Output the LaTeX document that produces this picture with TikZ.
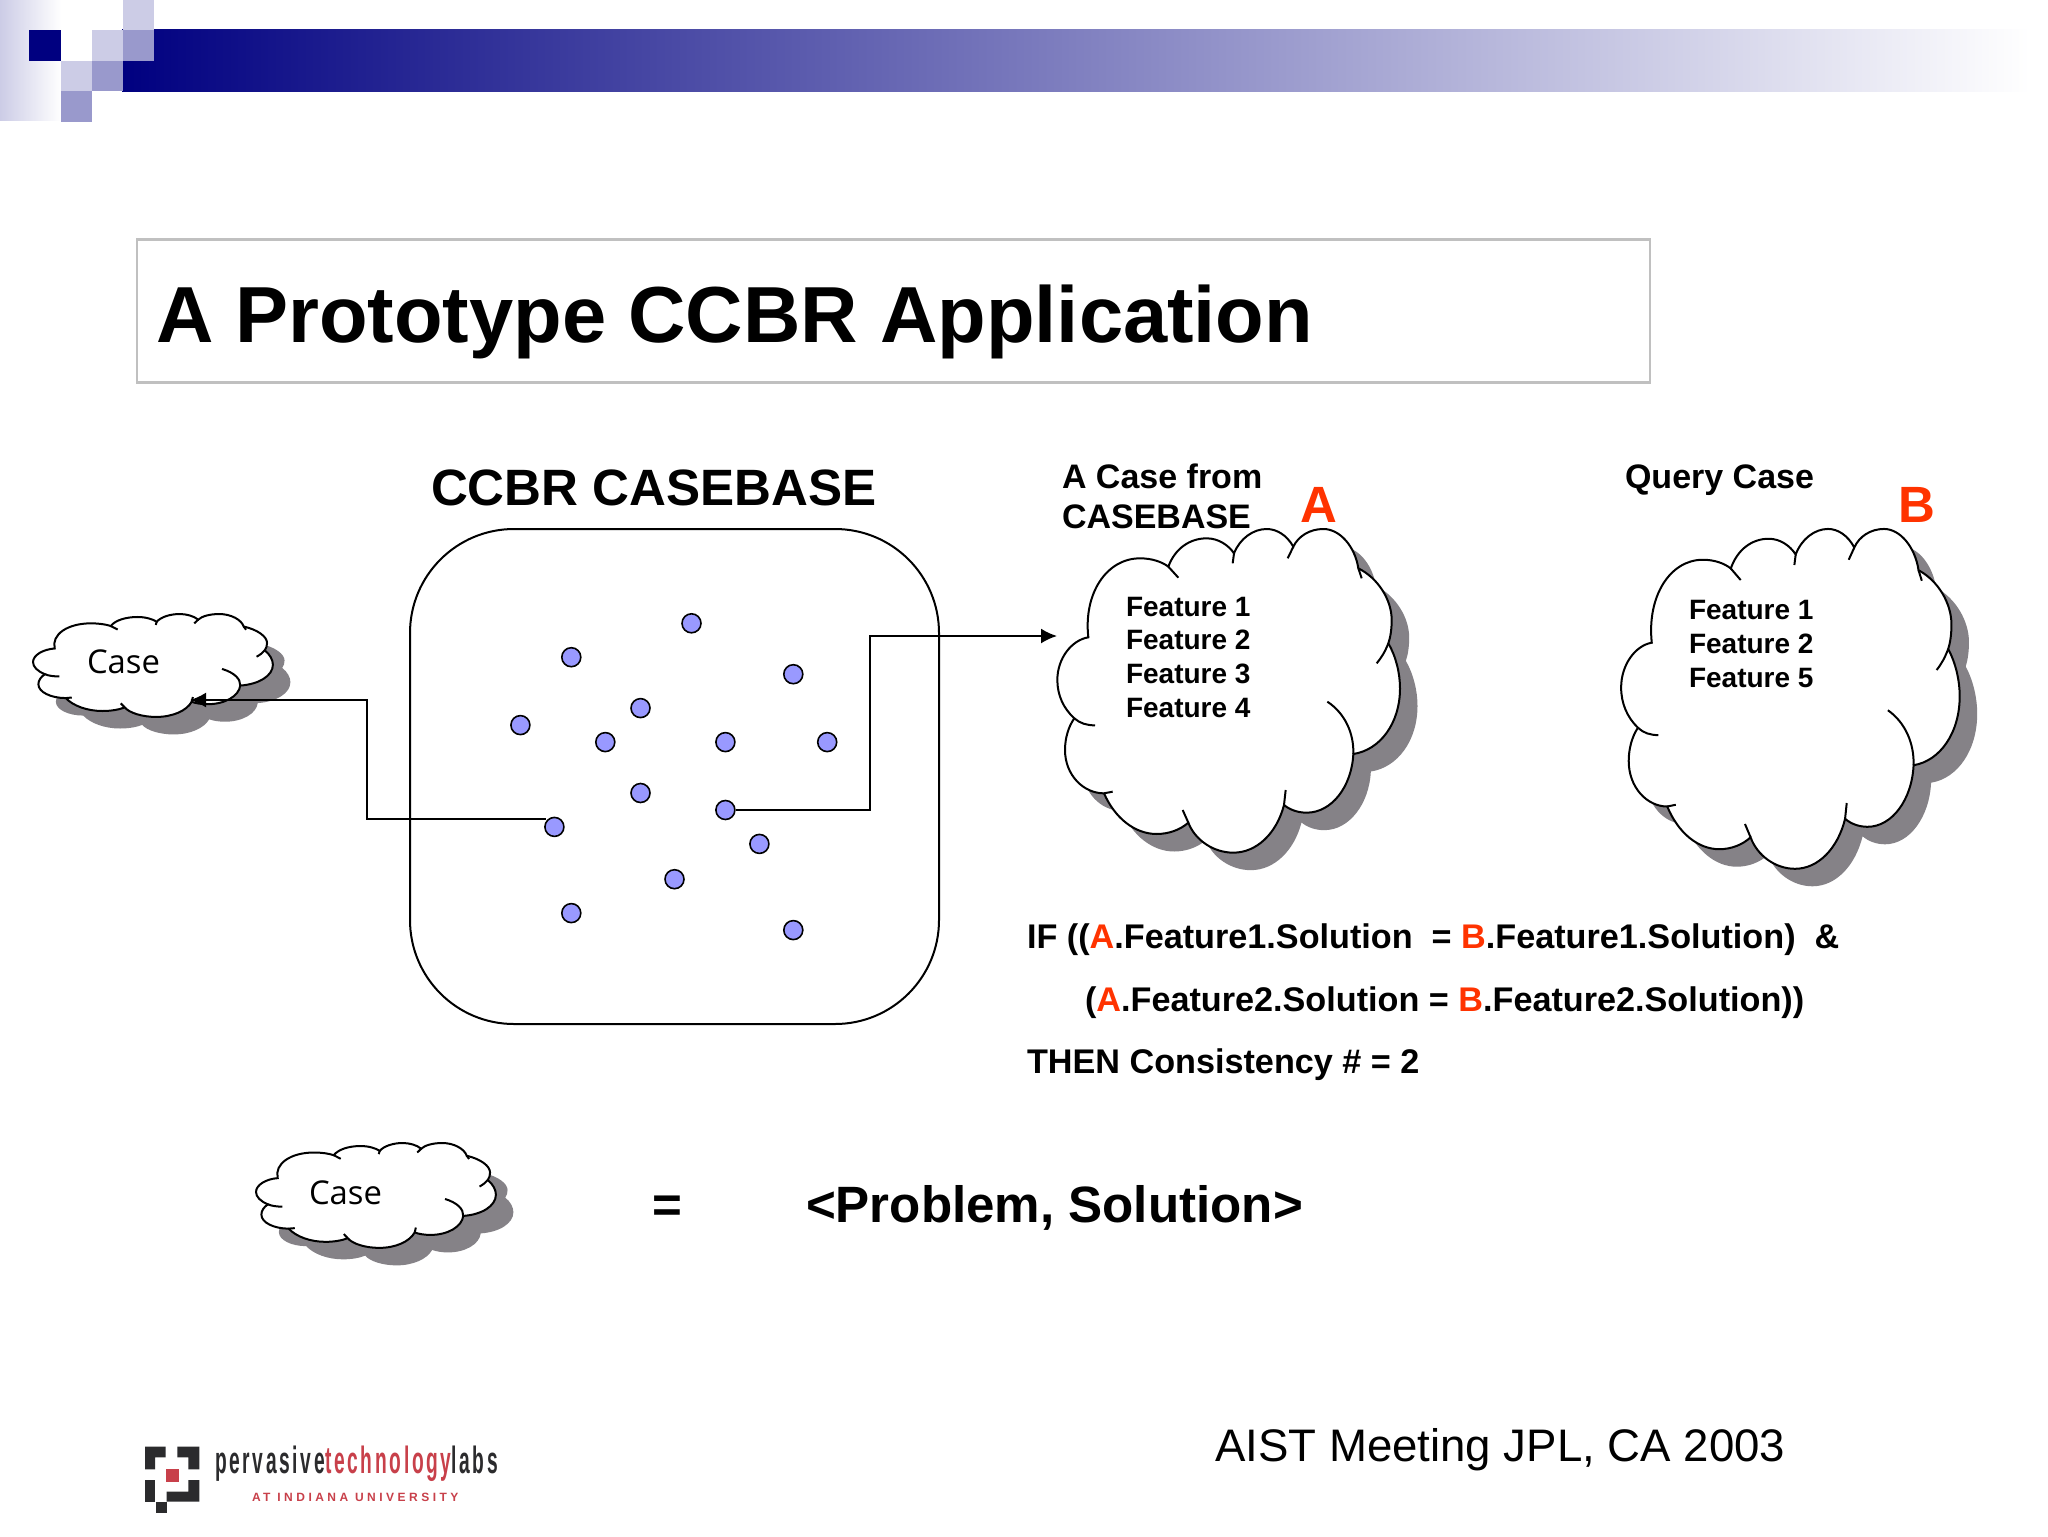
\documentclass[tikz,border=0pt]{standalone}
\usepackage{fontspec}
\setmainfont{Liberation Sans}
\newfontfamily\casefont{Open Sans}
\newfontfamily\spacedfont[LetterSpace=29]{Liberation Sans}
\newfontfamily\logofont[LetterSpace=14]{Liberation Sans}
\definecolor{navybar}{HTML}{000080}
\definecolor{lightsq}{HTML}{CCCCE6}
\definecolor{midsq}{HTML}{9999CC}
\definecolor{shadowgray}{HTML}{858287}
\definecolor{redletter}{HTML}{FF3300}
\definecolor{dotfill}{HTML}{9999FF}
\definecolor{boxgray}{HTML}{C0C0C0}
\definecolor{logored}{HTML}{C8404A}
\definecolor{logodark}{HTML}{2B2B2D}
\newcommand{\RA}{\textcolor{redletter}{A}}
\newcommand{\RB}{\textcolor{redletter}{B}}
\newcommand{\blobpath}{
  (145,562) .. controls (130,430) and (200,325) .. (300,325) .. controls (335,325) and (365,335) .. (385,350)
  .. controls (405,295) and (450,265) .. (500,265) .. controls (535,265) and (565,285) .. (582,310)
  .. controls (600,265) and (640,237) .. (680,237) .. controls (710,237) and (740,255) .. (760,290)
  .. controls (775,258) and (810,237) .. (850,237) .. controls (900,237) and (945,290) .. (955,355)
  .. controls (1015,385) and (1055,450) .. (1055,510) .. controls (1055,535) and (1052,560) .. (1045,580)
  .. controls (1068,620) and (1080,670) .. (1080,715) .. controls (1080,820) and (1020,900) .. (940,912)
  .. controls (935,1010) and (875,1088) .. (800,1088) .. controls (775,1088) and (750,1080) .. (732,1065)
  .. controls (710,1150) and (650,1208) .. (580,1208) .. controls (520,1208) and (465,1170) .. (445,1118)
  .. controls (420,1140) and (385,1152) .. (350,1152) .. controls (285,1152) and (225,1105) .. (192,1030)
  .. controls (130,1030) and (75,975) .. (75,900) .. controls (75,865) and (85,830) .. (103,805)
  .. controls (70,775) and (52,735) .. (52,690) .. controls (52,625) and (95,570) .. (145,562) -- cycle}
% #1 X, #2 Y, #3 x scale, #4 y scale (cloud outline is given in 3x crop units)
\newcommand{\cloudat}[4]{
  \begin{scope}[shift={(#1+17.5,#2+17.5)},xscale=#3/3,yscale=#4/3]
    \fill[shadowgray] \blobpath;
  \end{scope}
  \begin{scope}[shift={(#1,#2)},xscale=#3/3,yscale=#4/3]
    \fill[white] \blobpath;
    \draw[cloudline] \blobpath;
    \draw[cloudline] (385,350) -- (415,383);
    \draw[cloudline] (582,310) -- (578,340);
    \draw[cloudline] (760,290) -- (743,325);
    \draw[cloudline] (955,355) -- (965,385);
    \draw[cloudline] (1045,580) .. controls (1035,605) and (1025,622) .. (1010,640);
    \draw[cloudline] (862,755) .. controls (915,790) and (942,850) .. (940,912);
    \draw[cloudline] (737,1020) -- (732,1065);
    \draw[cloudline] (428,1080) -- (445,1118);
    \draw[cloudline] (192,1030) -- (218,1025);
    \draw[cloudline] (103,805) .. controls (120,820) and (140,826) .. (165,826);
  \end{scope}
}
\tikzset{
  cloudline/.style={black,line width=1pt},
  txt/.style={inner sep=0pt,outer sep=0pt,anchor=base west,text=black},
  dot/.style={circle,draw=black,line width=.8pt,fill=dotfill,minimum size=9.5pt,inner sep=0pt},
  conn/.style={black,line width=1pt},
  tip/.style={-{Latex[length=8pt,width=7.5pt]}},
  titlef/.style={font=\fontsize{39.75}{48}\selectfont\bfseries},
  headf/.style={font=\fontsize{25.55}{30}\selectfont\bfseries},
  capf/.style={font=\fontsize{17}{20}\selectfont\bfseries},
  featf/.style={font=\fontsize{14}{16}\selectfont\bfseries},
  letterf/.style={font=\fontsize{25.5}{30}\selectfont\bfseries,text=redletter},
  rulef/.style={font=\fontsize{17.1}{20}\selectfont\bfseries},
  casef/.style={font=\fontsize{16.4}{20}\casefont},
}
\usetikzlibrary{arrows.meta}
\begin{document}
\begin{tikzpicture}[x=0.5pt,y=-0.5pt]
\useasboundingbox (0,0) rectangle (2048,1536);
\fill[white] (0,0) rectangle (2048,1536);
% banner
\shade[left color=lightsq,right color=white] (0,0) rectangle (61,120);
\shade[left color=navybar,right color=white] (122,30) rectangle (2030,92);
\fill[navybar] (29,30) rectangle (61,61);
\fill[lightsq] (123,0) rectangle (154,30);
\fill[lightsq] (92,30) rectangle (123,61);
\fill[midsq] (123,30) rectangle (154,61);
\fill[lightsq] (61,61) rectangle (92,91);
\fill[midsq] (92,61) rectangle (123,91);
\fill[midsq] (61,91) rectangle (92,122);
% title
\draw[boxgray,line width=1.3pt] (137,239.5) rectangle (1650,382.5);
\node[txt,titlef] (title) at (156,342.5) {A Prototype CCBR Application};
% casebase
\node[draw=black,line width=1pt,rounded corners=52pt,minimum width=264.5pt,minimum height=247.5pt,inner sep=0pt] (cb) at (674.5,776.5) {};
\node[txt,headf] (cbtitle) at (431,505) {CCBR CASEBASE};
% clouds
\cloudat{20.9}{588.9}{0.70}{0.318}
\cloudat{243.9}{1117.4}{0.70}{0.324}
\cloudat{1040}{450}{1}{1}
\cloudat{1604}{446}{0.988}{1.05}
% dots
\node[dot] (d1) at (691.5,623.3) {};
\node[dot] (d2) at (571.3,657.2) {};
\node[dot] (d3) at (793.3,674.2) {};
\node[dot] (d4) at (640.5,708.1) {};
\node[dot] (d5) at (520.4,725.1) {};
\node[dot] (d6) at (605.3,742.1) {};
\node[dot] (d7) at (725.4,742.1) {};
\node[dot] (d8) at (827.2,742.1) {};
\node[dot] (d9) at (640.5,793) {};
\node[dot] (dR) at (725.4,810) {};
\node[dot] (dL) at (554.4,826.9) {};
\node[dot] (d12) at (759.4,843.9) {};
\node[dot] (d13) at (674.5,879.2) {};
\node[dot] (d14) at (571.3,913.1) {};
\node[dot] (d15) at (793.3,930.1) {};
% connectors
\coordinate (elbowR) at (869.5,636);
\coordinate (toA) at (1057,636);
\coordinate (startL) at (546,818.6);
\coordinate (elbowL) at (367,700);
\coordinate (toCase) at (190,700);
\draw[conn,tip] (dR) -| (elbowR) -- (toA);
\draw[conn,tip] (startL) -| (elbowL) -- (toCase);
% labels
\node[txt,casef] (case1) at (87,673) {Case};
\node[txt,casef] (case2) at (309,1204) {Case};
\node[txt,capf] (c1a) at (1062,488) {A Case from};
\node[txt,capf] (c1b) at (1062,528) {CASEBASE};
\node[txt,letterf] (la) at (1300,522) {A};
\node[txt,capf] (qc) at (1625,488) {Query Case};
\node[txt,letterf] (lb) at (1898,522) {B};
\node[txt,featf] (fa1) at (1126,616.5) {Feature 1};
\node[txt,featf] (fa2) at (1126,649.5) {Feature 2};
\node[txt,featf] (fa3) at (1126,683) {Feature 3};
\node[txt,featf] (fa4) at (1126,717) {Feature 4};
\node[txt,featf] (fb1) at (1689,619.4) {Feature 1};
\node[txt,featf] (fb2) at (1689,653.4) {Feature 2};
\node[txt,featf] (fb3) at (1689,687.4) {Feature 5};
\node[txt,rulef] (r1) at (1027,948) {IF ((\RA.Feature1.Solution~ = \RB.Feature1.Solution)~ \&};
\node[txt,rulef] (r2) at (1085,1011) {(\RA.Feature2.Solution = \RB.Feature2.Solution))};
\node[txt,rulef] (r3) at (1027,1073) {THEN Consistency \# = 2};
\node[txt,headf] (eq) at (652,1222) {=};
\node[txt,headf] (ps) at (806,1222) {<Problem, Solution>};
\node[txt,font=\fontsize{22.8}{27}\selectfont] (aist) at (1215,1461) {AIST Meeting JPL, CA 2003};
% logo
\begin{scope}[shift={(120,1430)},xscale=1/3,yscale=1/3]
  \fill[logodark] (75,50) -- (137,50) -- (137,82) -- (105,82) -- (105,118) -- (75,118) -- cycle;
  \fill[logodark] (172,50) -- (238,50) -- (238,118) -- (205,118) -- (205,82) -- (172,82) -- cycle;
  \fill[logored] (138,116) rectangle (177,155);
  \fill[logodark] (75,150) rectangle (105,215);
  \fill[logodark] (205,150) -- (238,150) -- (238,215) -- (140,215) -- (140,185) -- (205,185) -- cycle;
  \fill[logodark] (108,215) rectangle (140,248);
\end{scope}
\node[txt,font=\fontsize{19}{22}\logofont\bfseries,xscale=.505,transform shape] (logo) at (215,1473) {\textcolor{logodark}{pervasive}\textcolor{logored}{technology}\textcolor{logodark}{labs}};
\node[txt,font=\fontsize{6}{7}\spacedfont\bfseries,text=logored] (logo2) at (252,1501) {AT INDIANA UNIVERSITY};
\end{tikzpicture}
\end{document}
